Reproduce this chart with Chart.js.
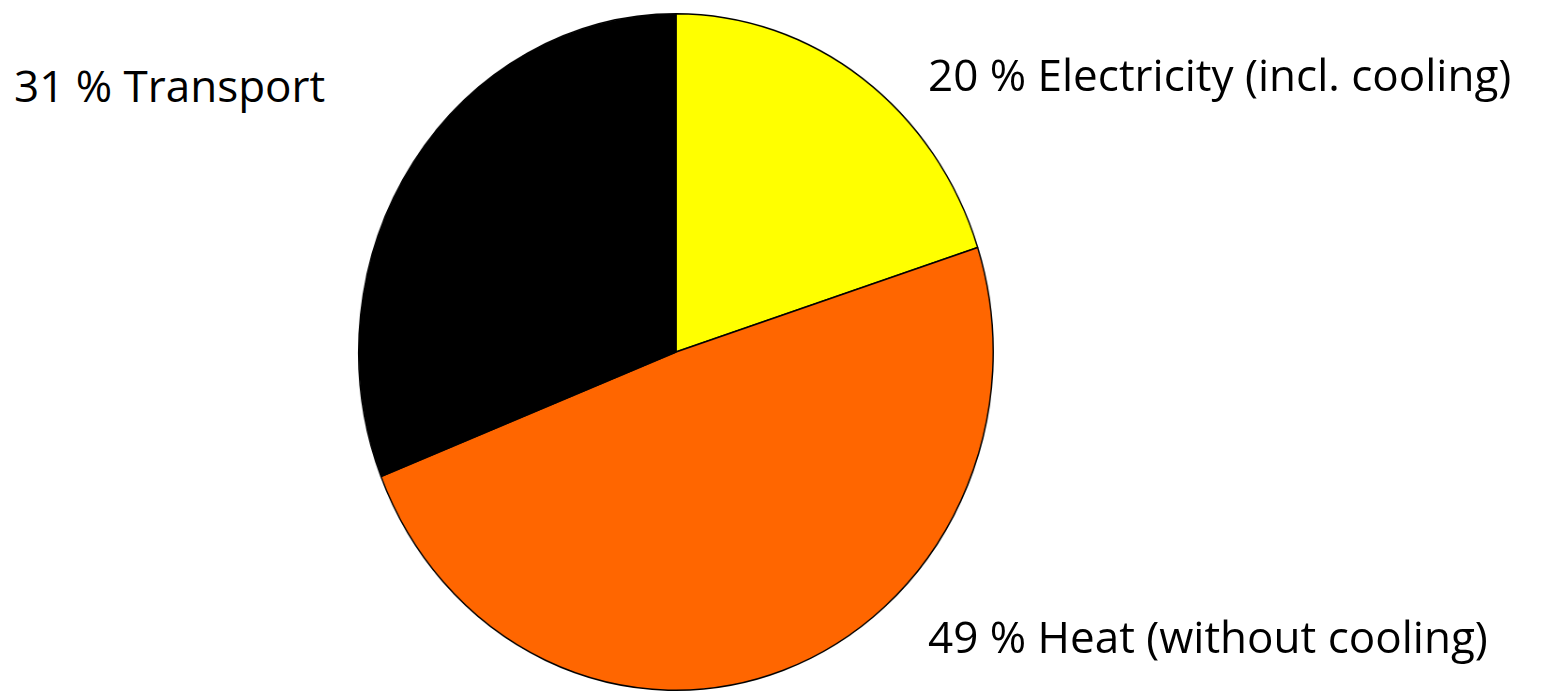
<!DOCTYPE html>
<html>
<head>
<meta charset="utf-8">
<script src="https://cdn.jsdelivr.net/npm/chart.js@4"></script>
<style>
  html, body { margin: 0; padding: 0; background: #fff; }
  body { width: 1559px; height: 695px; position: relative; overflow: hidden; font-family: "Open Sans", Lato, sans-serif; }
  #pieWrap { position: absolute; left: 357px; top: 12px; width: 680px; height: 680px;
             transform: scaleX(0.938); transform-origin: 0 0; }
  .lbl { position: absolute; font-size: 44px; color: #000; white-space: nowrap; line-height: 1; }
</style>
</head>
<body>
<div id="pieWrap"><canvas id="pie" width="680" height="680"></canvas></div>
<div id="labels"></div>
<script>
// data
const categories = ['Electricity (incl. cooling)', 'Heat (without cooling)', 'Transport'];
const shares     = [20, 49, 31];
const colors     = ['#FFFF00', '#FF6600', '#000000'];
// label placement (px on page)
const labelPos   = [[928, 52], [928, 614], [14, 63]];

const chart = new Chart(document.getElementById('pie'), {
  type: 'pie',
  data: {
    labels: categories,
    datasets: [{
      data: shares,
      backgroundColor: colors,
      borderColor: '#000',
      borderWidth: 1.5
    }]
  },
  options: {
    responsive: false,
    animation: false,
    devicePixelRatio: 1,
    layout: { padding: 1 },
    plugins: { legend: { display: false }, tooltip: { enabled: false } }
  }
});

document.getElementById('labels').innerHTML = categories.map((c, i) =>
  `<div class="lbl" style="left:${labelPos[i][0]}px;top:${labelPos[i][1]}px">${shares[i]} % ${c}</div>`
).join('');
</script>
</body>
</html>
